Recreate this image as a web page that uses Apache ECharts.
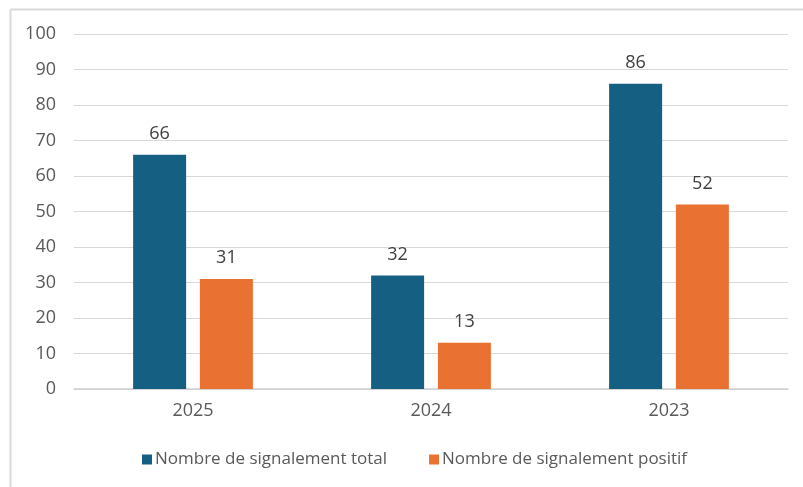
<!DOCTYPE html>
<html><head><meta charset="utf-8">
<script src="https://cdn.jsdelivr.net/npm/echarts@6/dist/echarts.min.js"></script>
<style>html,body{margin:0;padding:0;background:#fff}#c{width:803px;height:487px}</style>
</head><body><div id="c"></div>
<script>
const categories = ['2025', '2024', '2023'];
const totalValues = [66, 32, 86];
const positiveValues = [31, 13, 52];
const seriesNames = ['Nombre de signalement total', 'Nombre de signalement positif'];

const font = 'Open Sans';
const chart = echarts.init(document.getElementById('c'));
chart.setOption({
  animation: false,
  backgroundColor: '#fff',
  textStyle: { fontFamily: font },
  graphic: [
    { type: 'line', shape: { x1: 10.5, y1: 9.5, x2: 803, y2: 9.5 }, style: { stroke: '#d9d9d9', lineWidth: 2 } },
    { type: 'line', shape: { x1: 10.5, y1: 9.5, x2: 10.5, y2: 487 }, style: { stroke: '#d9d9d9', lineWidth: 2 } }
  ],
  grid: { left: 74, right: 15, top: 34, bottom: 98, containLabel: false },
  legend: {
    bottom: 14,
    left: 137,
    itemWidth: 10, itemHeight: 10, itemGap: 42,
    icon: 'rect',
    textStyle: { fontSize: 17, color: '#595959', fontFamily: font, padding: [0, 0, 0, -2] },
    data: seriesNames
  },
  xAxis: {
    type: 'category',
    data: categories,
    axisLine: { lineStyle: { color: '#d0d0d0', width: 1.5 } },
    axisTick: { show: false },
    axisLabel: { color: '#595959', fontSize: 18, margin: 13, fontFamily: font }
  },
  yAxis: {
    type: 'value', min: 0, max: 100, interval: 10,
    axisLine: { show: false }, axisTick: { show: false },
    axisLabel: { color: '#595959', fontSize: 18, margin: 18, fontFamily: font },
    splitLine: { lineStyle: { color: '#d9d9d9', width: 1 } }
  },
  series: [
    { name: seriesNames[0], type: 'bar', data: totalValues, barWidth: 53, barGap: '26%',
      itemStyle: { color: '#156082' },
      label: { show: true, position: 'top', distance: 12, color: '#404040', fontSize: 18, fontFamily: font } },
    { name: seriesNames[1], type: 'bar', data: positiveValues, barWidth: 53,
      itemStyle: { color: '#e97132' },
      label: { show: true, position: 'top', distance: 12, color: '#404040', fontSize: 18, fontFamily: font } }
  ]
});
</script></body></html>
